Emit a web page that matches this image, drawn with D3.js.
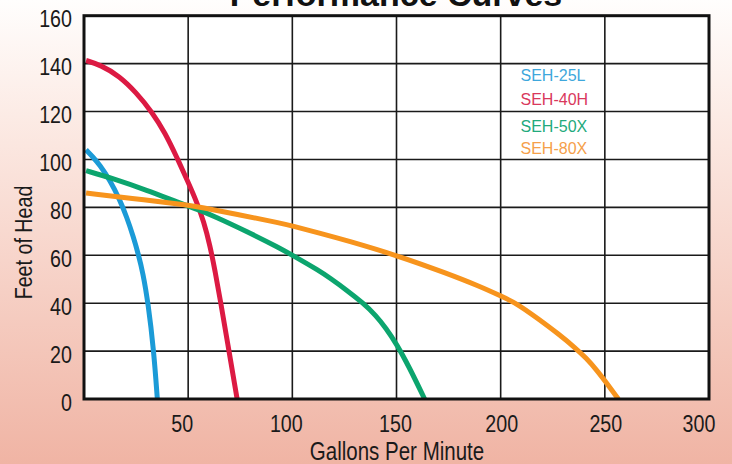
<!DOCTYPE html>
<html>
<head>
<meta charset="utf-8">
<script src="https://cdn.jsdelivr.net/npm/d3@7"></script>
<style>
  html, body { margin: 0; padding: 0; }
  body { width: 732px; height: 464px; overflow: hidden; }
  svg { display: block; }
</style>
</head>
<body>
<svg id="chart" width="732" height="464"></svg>
<script>
// ---- Data ----
const title = "Performance Curves";
const xLabel = "Gallons Per Minute";
const yLabel = "Feet of Head";
const xTicks = [50, 100, 150, 200, 250, 300];
const yTicks = [0, 20, 40, 60, 80, 100, 120, 140, 160];
const seriesNames = ["SEH-25L", "SEH-40H", "SEH-50X", "SEH-80X"];

const seh25L = [[1,104],[4,101.3],[7.7,97.6],[12.5,91.2],[17,83.5],[20.5,76],[23.7,67.7],[26.2,60],[28.2,53],[30.8,40],[33.5,20],[35.2,0]];
const seh40H = [[1,141.3],[8,139.4],[17,134.8],[25,128],[32.5,120],[39,111],[44.5,101],[50,90.5],[54,82.5],[57.5,74],[60.5,64],[63,53],[65.3,42],[69.5,20.5],[73.5,0]];
const seh50X = [[1,95.3],[14,92],[30,87.2],[46,81.8],[54,79.3],[62,76.5],[78,70],[94,63],[100,60],[113,53.5],[118,50.5],[126,45.5],[134,40],[140,35],[145,29.5],[150,23],[156,13.5],[163.5,0]];
const seh80X = [[1,86],[30,83],[51,80.8],[55,80.2],[75,76.8],[94,73.5],[100,72.2],[113,69.3],[126,66.2],[150,60],[174,52.5],[190,47],[200,43],[207.5,40],[218,33.5],[228,27],[236,21.2],[241,17.1],[246,12.2],[251,6.5],[256.5,0]];

// ---- Styles ----
const lineColors = ["#1b9bd7", "#dc1a43", "#0ca56e", "#f7941d"];
const legendColors = ["#3ea7dc", "#d9385c", "#22aa7c", "#f5a04a"];
const xTickShift = {50: -6, 100: -6, 150: -1, 200: 1, 250: 1, 300: -10};
const condense = 0.82;

const svg = d3.select("#chart");
const W = 732, H = 464;
const plot = {left: 84, right: 709, top: 15.7, bottom: 399};

// background gradient
const defs = svg.append("defs");
const grad = defs.append("linearGradient").attr("id", "bg")
  .attr("x1", 0).attr("y1", 0).attr("x2", 0).attr("y2", 1);
grad.append("stop").attr("offset", "0%").attr("stop-color", "#fffefd");
grad.append("stop").attr("offset", "25%").attr("stop-color", "#fcebe5");
grad.append("stop").attr("offset", "100%").attr("stop-color", "#f0b4a4");
svg.append("rect").attr("width", W).attr("height", H).attr("fill", "url(#bg)");

const x = d3.scaleLinear().domain([0, 300]).range([plot.left, plot.right]);
const y = d3.scaleLinear().domain([0, 160]).range([plot.bottom, plot.top]);

// plot background
svg.append("rect")
  .attr("x", plot.left).attr("y", plot.top)
  .attr("width", plot.right - plot.left).attr("height", plot.bottom - plot.top)
  .attr("fill", "#ffffff");

// grid
const grid = svg.append("g").attr("stroke", "#1a1a1a").attr("stroke-width", 1.6);
grid.selectAll("line.v").data(xTicks).join("line")
  .attr("x1", d => x(d)).attr("x2", d => x(d))
  .attr("y1", plot.top).attr("y2", plot.bottom);
grid.selectAll("line.h").data(yTicks).join("line")
  .attr("x1", plot.left).attr("x2", plot.right)
  .attr("y1", d => y(d)).attr("y2", d => y(d));

// curves
const clip = defs.append("clipPath").attr("id", "clip");
clip.append("rect").attr("x", plot.left).attr("y", plot.top)
  .attr("width", plot.right - plot.left).attr("height", plot.bottom - plot.top);

const line = d3.line().x(d => x(d[0])).y(d => y(d[1])).curve(d3.curveBasis);
const allSeries = [seh25L, seh40H, seh50X, seh80X];
svg.append("g").attr("clip-path", "url(#clip)")
  .selectAll("path").data(allSeries).join("path")
  .attr("d", line)
  .attr("fill", "none")
  .attr("stroke", (d, i) => lineColors[i])
  .attr("stroke-width", 5)
  .attr("stroke-linecap", "butt")
  .attr("stroke-linejoin", "round");

// border
svg.append("rect")
  .attr("x", plot.left).attr("y", plot.top)
  .attr("width", plot.right - plot.left).attr("height", plot.bottom - plot.top)
  .attr("fill", "none").attr("stroke", "#111").attr("stroke-width", 3);

const sans = "'Liberation Sans', Arial, sans-serif";

// y tick labels (condensed)
svg.append("g").selectAll("g").data(yTicks).join("g")
  .attr("transform", d => `translate(72,${y(d) + 11.5}) scale(${condense},1)`)
  .append("text")
  .attr("text-anchor", "end")
  .attr("font-family", sans).attr("font-size", 24).attr("fill", "#1a1a1a")
  .text(d => d);

// x tick labels
svg.append("g").selectAll("g").data(xTicks).join("g")
  .attr("transform", d => `translate(${x(d) + (xTickShift[d] || 0)},432) scale(${condense},1)`)
  .append("text")
  .attr("text-anchor", "middle")
  .attr("font-family", sans).attr("font-size", 24).attr("fill", "#1a1a1a")
  .text(d => d);

// axis titles
svg.append("g").attr("transform", `translate(397,460) scale(${condense},1)`)
  .append("text")
  .attr("text-anchor", "middle")
  .attr("font-family", sans).attr("font-size", 25).attr("fill", "#1a1a1a")
  .text(xLabel);
svg.append("g").attr("transform", `translate(31.5,242.5) rotate(-90) scale(${condense},1)`)
  .append("text")
  .attr("text-anchor", "middle")
  .attr("font-family", sans).attr("font-size", 24).attr("fill", "#1a1a1a")
  .text(yLabel);

// title
svg.append("text")
  .attr("x", 396).attr("y", 5.5)
  .attr("text-anchor", "middle")
  .attr("font-family", sans)
  .attr("font-weight", "bold").attr("font-size", 34).attr("fill", "#111")
  .text(title);

// legend
const legendBaselines = [80.5, 105, 131.5, 153.5];
svg.append("g").selectAll("text").data(seriesNames).join("text")
  .attr("x", 520.5).attr("y", (d, i) => legendBaselines[i])
  .attr("font-family", sans)
  .attr("font-size", 16)
  .attr("fill", (d, i) => legendColors[i])
  .text(d => d);
</script>
</body>
</html>
